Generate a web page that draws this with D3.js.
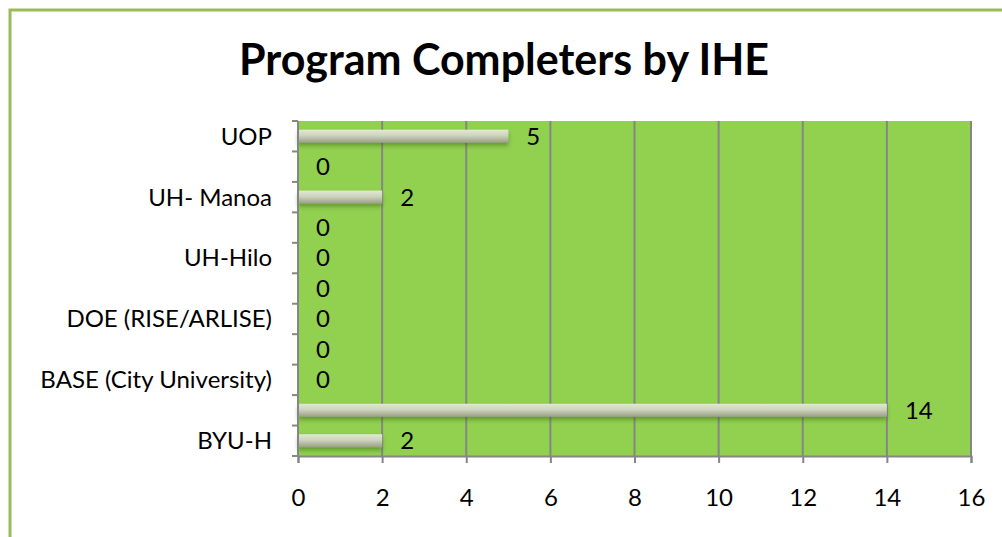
<!DOCTYPE html>
<html>
<head>
<meta charset="utf-8">
<script src="https://cdn.jsdelivr.net/npm/d3@7"></script>
<style>
	body { margin: 0; background: #ffffff; }
	svg { display: block; }
	text { font-family: Lato, "Open Sans", sans-serif; fill: #000; }
</style>
</head>
<body>
<svg id="svg-port" width="1002" height="537"></svg>
<script>
// categories bottom to top, as the chart lists them (every other label is hidden)
var categories = ['BYU-H', '', 'BASE (City University)', '', 'DOE (RISE/ARLISE)', '', 'UH-Hilo', '', 'UH- Manoa', '', 'UOP'];
var completers = [2, 14, 0, 0, 0, 0, 0, 0, 2, 0, 5];
var xTicks = [0, 2, 4, 6, 8, 10, 12, 14, 16];
var chartTitle = 'Program Completers by IHE';

drawCompletersChart();

function drawCompletersChart() {
	var svg = d3.select('#svg-port');
	var plotLeft = 298, plotRight = 971, plotTop = 121, plotBottom = 456;
	var labelSize = '24px';

	var data = categories.map(function (c, i) {
		return {idx: i, name: c, value: completers[i]};
	});

	// outer chart border
	svg.append('rect')
		.attr('x', 10).attr('y', 10)
		.attr('width', 1010).attr('height', 560)
		.style('fill', 'none')
		.style('stroke', '#9bbb59')
		.style('stroke-width', 3);

	var defs = svg.append('defs');
	var grad = defs.append('linearGradient').attr('id', 'barGrad')
		.attr('x1', 0).attr('y1', 0).attr('x2', 0).attr('y2', 1);
	grad.append('stop').attr('offset', '0%').attr('stop-color', '#e2e9d4');
	grad.append('stop').attr('offset', '45%').attr('stop-color', '#cdd3bd');
	grad.append('stop').attr('offset', '100%').attr('stop-color', '#9a9e84');
	var shadow = defs.append('filter').attr('id', 'barShadow')
		.attr('x', '-5%').attr('y', '-50%').attr('width', '110%').attr('height', '220%');
	shadow.append('feDropShadow')
		.attr('dx', 0).attr('dy', 3).attr('stdDeviation', 2)
		.attr('flood-color', '#2f5a10').attr('flood-opacity', 0.45);

	var xScale = d3.scaleLinear()
		.domain([0, 16])
		.range([plotLeft, plotRight]);
	var yScale = d3.scaleBand()
		.domain(data.map(function (d) { return d.idx; }).reverse())
		.range([plotTop, plotBottom])
		.paddingInner(0.57)
		.paddingOuter(0.285);

	// plot area
	svg.append('rect')
		.attr('x', plotLeft).attr('y', plotTop)
		.attr('width', plotRight - plotLeft).attr('height', plotBottom - plotTop)
		.style('fill', '#92d050');

	// vertical grid lines
	svg.append('g').attr('id', 'grid')
		.selectAll('line')
		.data(xTicks.slice(1))
		.enter().append('line')
		.attr('x1', function (d) { return xScale(d); })
		.attr('x2', function (d) { return xScale(d); })
		.attr('y1', plotTop).attr('y2', plotBottom)
		.style('stroke', '#868686')
		.style('stroke-width', 2);

	// bars
	svg.append('g').attr('id', 'bars')
		.selectAll('rect')
		.data(data.filter(function (d) { return d.value > 0; }))
		.enter().append('rect')
		.attr('x', xScale(0))
		.attr('y', function (d) { return yScale(d.idx); })
		.attr('width', function (d) { return xScale(d.value) - xScale(0); })
		.attr('height', yScale.bandwidth())
		.attr('filter', 'url(#barShadow)')
		.style('fill', 'url(#barGrad)');

	// data labels
	svg.append('g').attr('id', 'labels')
		.selectAll('text')
		.data(data)
		.enter().append('text')
		.attr('x', function (d) { return xScale(d.value) + 18; })
		.attr('y', function (d) { return yScale(d.idx) + yScale.bandwidth() / 2; })
		.attr('dy', '0.35em')
		.style('font-size', labelSize)
		.text(function (d) { return d.value; });

	// y axis with category ticks at band edges
	var yAxisG = svg.append('g').attr('id', 'y-axis');
	var edges = d3.range(categories.length + 1).map(function (i) { return plotTop + i * (plotBottom - plotTop) / categories.length; });
	yAxisG.append('line')
		.attr('x1', plotLeft).attr('x2', plotLeft)
		.attr('y1', plotTop).attr('y2', plotBottom)
		.style('stroke', '#868686').style('stroke-width', 2);
	yAxisG.selectAll('line.tick')
		.data(edges)
		.enter().append('line').attr('class', 'tick')
		.attr('x1', plotLeft - 6).attr('x2', plotLeft)
		.attr('y1', function (d) { return d; }).attr('y2', function (d) { return d; })
		.style('stroke', '#868686').style('stroke-width', 2);
	yAxisG.selectAll('text')
		.data(data)
		.enter().append('text')
		.attr('x', 272)
		.attr('y', function (d) { return yScale(d.idx) + yScale.bandwidth() / 2; })
		.attr('dy', '0.35em')
		.attr('text-anchor', 'end')
		.style('font-size', labelSize)
		.text(function (d) { return d.name; });

	// x axis
	var xAxis = d3.axisBottom(xScale).tickValues(xTicks).tickSize(7).tickPadding(26);
	var xAxisG = svg.append('g').attr('id', 'x-axis')
		.attr('transform', 'translate(0,' + plotBottom + ')')
		.call(xAxis);
	xAxisG.select('.domain').style('stroke', '#868686').style('stroke-width', 2);
	xAxisG.selectAll('.tick line').style('stroke', '#868686').style('stroke-width', 2);
	xAxisG.selectAll('.tick text')
		.style('font-family', 'Lato, "Open Sans", sans-serif')
		.style('font-size', labelSize)
		.style('fill', '#000');

	// title
	svg.append('text')
		.attr('x', 504).attr('y', 75)
		.attr('text-anchor', 'middle')
		.style('font-size', '43px')
		.style('font-weight', 'bold')
		.text(chartTitle);
}
</script>
</body>
</html>
